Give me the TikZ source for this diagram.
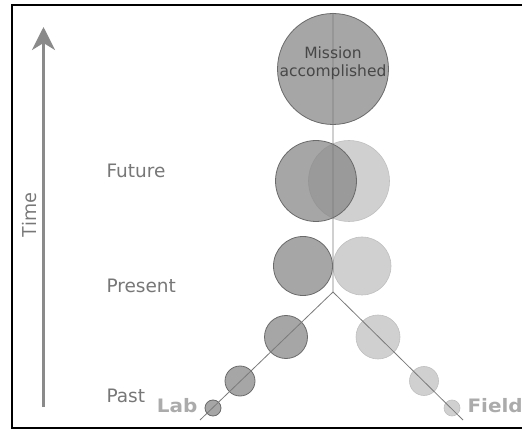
\documentclass[tikz,border=0pt]{standalone}
\usepackage{fontspec}
\setmainfont{DejaVu Sans}
\newfontfamily\timefont{Open Sans}
\newfontfamily\heavyfont[FakeStretch=1.08]{DejaVu Sans}
\usetikzlibrary{arrows.meta}
\definecolor{darkdot}{HTML}{888888}
\definecolor{lightdot}{HTML}{D0D0D0}
\definecolor{rimdark}{HTML}{6A6A6A}
\definecolor{stemgray}{HTML}{7A7A7A}
\definecolor{labelgray}{HTML}{777777}
\definecolor{taggray}{HTML}{ABABAB}
\definecolor{arrowgray}{HTML}{8A8A8A}
\begin{document}
\begin{tikzpicture}[x=1pt,y=-1pt,
	labdot/.style={circle,draw=rimdark,line width=0.8pt,fill=darkdot,fill opacity=0.75,inner sep=0pt},
	fielddot/.style={circle,draw=lightdot!92!black,line width=0.6pt,fill=lightdot,inner sep=0pt},
	era/.style={anchor=base west,text=labelgray,font=\fontsize{18.5}{22}\selectfont},
	side/.style={text=taggray,font=\heavyfont\bfseries\fontsize{18.5}{20}\selectfont},
	stem/.style={stemgray,line width=0.8pt}]
	\useasboundingbox (0,0) rectangle (522,430);
	%\draw[lightgray] (0,0) grid[step=50] (522,430);
	\draw[line width=1.6pt] (530,5) -- (11.7,5) -- (11.7,427.7) -- (530,427.7);
	% time axis
	\coordinate (tstart) at (43.5,407);
	\coordinate (tend) at (43.5,27);
	\draw[arrowgray,line width=3pt,-{Stealth[length=23pt,width=23pt,inset=7pt]}] (tstart) -- (tend);
	\node[rotate=90,text=labelgray,font=\timefont\fontsize{19.5}{22}\selectfont] (time) at (29,215) {Time};
	% eras
	\node[era] (future) at (103,178) {Future};
	\node[era] (present) at (103,292.5) {Present};
	\node[era] (past) at (103,402) {Past};
	% field side (drawn first)
	\node[fielddot,minimum size=81pt] (futureF) at (349,181) {};
	\node[fielddot,minimum size=58pt] (presentF) at (362,266) {};
	\node[fielddot,minimum size=44pt] (pastF1) at (378,337) {};
	\node[fielddot,minimum size=29pt] (pastF2) at (424,381) {};
	\node[fielddot,minimum size=16pt] (pastF3) at (452,408) {};
	% lab side
	\node[labdot,minimum size=111pt] (mission) at (333,69) {};
	\node[labdot,minimum size=81pt] (futureL) at (316,181) {};
	\node[labdot,minimum size=59pt] (presentL) at (303,266) {};
	\node[labdot,minimum size=43pt] (pastL1) at (286,337) {};
	\node[labdot,minimum size=30pt] (pastL2) at (240,381) {};
	\node[labdot,minimum size=16pt] (pastL3) at (213,408) {};
	% paths
	\coordinate (top) at (333,13);
	\coordinate (fork) at (333,292);
	\coordinate (labend) at (200,420);
	\coordinate (fieldend) at (463,420);
	\draw[stem] (top) -- (fork) -- (labend);
	\draw[stem] (fork) -- (fieldend);
	\node[align=center,text=black!72,font=\fontsize{15.5}{18}\selectfont] (goal) at (333,63) {Mission\\accomplished};
	\node[side,anchor=base east] (lab) at (201,412.5) {Lab};
	\node[side,anchor=base west] (field) at (464,412.5) {Field};
\end{tikzpicture}
\end{document}
